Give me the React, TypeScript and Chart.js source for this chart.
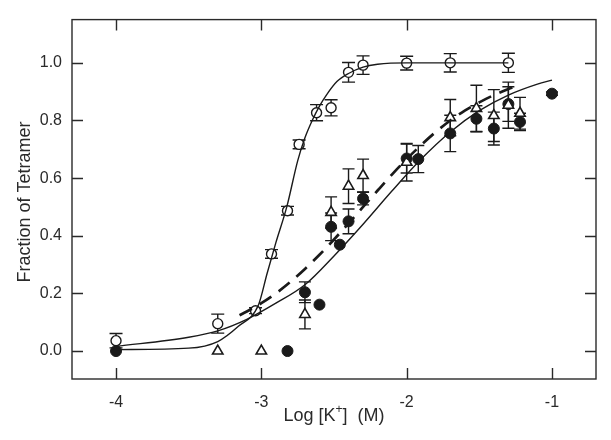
import React, { useEffect, useRef } from 'react';
import { Chart, registerables } from 'chart.js';

Chart.register(...registerables);

// ---------- data ----------
const xTicks = [-4, -3, -2, -1];
const yTicks = [0, 0.2, 0.4, 0.6, 0.8, 1.0];

// open circles
const openX = [-4.0, -3.3, -3.04, -2.93, -2.82, -2.74, -2.62, -2.52, -2.4, -2.3, -2.0, -1.7, -1.3];
const openY = [0.036, 0.095, 0.14, 0.337, 0.487, 0.717, 0.827, 0.844, 0.967, 0.992, 0.999, 1.0, 1.0];
const openErr = [0.025, 0.033, 0.01, 0.015, 0.015, 0.015, 0.028, 0.028, 0.034, 0.032, 0.024, 0.032, 0.033];

// open triangles
const triX = [-3.3, -3.0, -2.7, -2.52, -2.4, -2.3, -2.0, -1.7, -1.52, -1.4, -1.3, -1.22];
const triY = [0.0, 0.0, 0.127, 0.481, 0.572, 0.609, 0.655, 0.81, 0.842, 0.817, 0.853, 0.825];
const triErr = [0, 0, 0.05, 0.054, 0.06, 0.057, 0.065, 0.063, 0.08, 0.09, 0.08, 0.055];

// filled circles
const fillX = [-4.0, -2.82, -2.7, -2.6, -2.52, -2.46, -2.4, -2.3, -2.0, -1.92, -1.7, -1.52, -1.4, -1.3, -1.22, -1.0];
const fillY = [0.0, 0.0, 0.204, 0.161, 0.431, 0.369, 0.45, 0.529, 0.668, 0.666, 0.755, 0.806, 0.772, 0.857, 0.795, 0.893];
const fillErr = [0, 0, 0.036, 0, 0.048, 0, 0.043, 0.022, 0.05, 0.047, 0.063, 0.045, 0.057, 0.06, 0.03, 0.006];

// steep solid fit curve (open circles)
const fitOpenX = [-4.0, -3.5, -3.3, -3.16, -3.02, -2.96, -2.9, -2.825, -2.75, -2.7, -2.65, -2.6, -2.55, -2.48, -2.4, -2.3, -2.2, -2.0, -1.3];
const fitOpenY = [0.005, 0.01, 0.033, 0.085, 0.16, 0.27, 0.376, 0.5, 0.66, 0.74, 0.8, 0.85, 0.89, 0.935, 0.963, 0.985, 0.995, 1.0, 1.0];

// dashed fit curve (triangles)
const fitTriX = [-3.15, -3.1, -3.0, -2.9, -2.8, -2.7, -2.6, -2.5, -2.4, -2.3, -2.2, -2.1, -2.0, -1.9, -1.8, -1.7, -1.6, -1.5, -1.4, -1.3, -1.24];
const fitTriY = [0.124, 0.137, 0.166, 0.2, 0.24, 0.285, 0.334, 0.387, 0.443, 0.5, 0.557, 0.613, 0.666, 0.715, 0.76, 0.8, 0.834, 0.863, 0.888, 0.909, 0.92];

// shallow solid fit curve (filled circles)
const fitFillX = [-4.0, -3.5, -3.3, -3.1, -2.9, -2.7, -2.5, -2.3, -2.1, -1.9, -1.7, -1.5, -1.3, -1.1, -1.0];
const fitFillY = [0.016, 0.048, 0.07, 0.11, 0.166, 0.23, 0.33, 0.44, 0.556, 0.666, 0.76, 0.834, 0.888, 0.926, 0.94];

const xTitleMain = 'Log [K';
const xTitleSup = '+';
const xTitleEnd = ']  (M)';
const yTitle = 'Fraction of Tetramer';

// ---------- styling ----------
const FAMILY = '"Liberation Sans", Arial, Helvetica, sans-serif';
const INK = '#1a1a1a';
const TEXT = '#2a2a2a';

const pts = (xs: number[], ys: number[]) => xs.map((x, i) => ({ x, y: ys[i] }));

const errorBars = {
  id: 'errorBars',
  beforeDatasetsDraw(chart: any) {
    const { ctx, scales } = chart;
    const xs = scales.x;
    const ys = scales.y;
    ctx.save();
    ctx.strokeStyle = INK;
    ctx.lineWidth = 1.4;
    const draw = (X: number[], Y: number[], E: number[], cap: number) => {
      for (let i = 0; i < X.length; i++) {
        if (!E[i]) continue;
        const px = xs.getPixelForValue(X[i]);
        const top = ys.getPixelForValue(Y[i] + E[i]);
        const bot = ys.getPixelForValue(Y[i] - E[i]);
        ctx.beginPath();
        ctx.moveTo(px, top);
        ctx.lineTo(px, bot);
        ctx.moveTo(px - cap, top);
        ctx.lineTo(px + cap, top);
        ctx.moveTo(px - cap, bot);
        ctx.lineTo(px + cap, bot);
        ctx.stroke();
      }
    };
    draw(fillX, fillY, fillErr, 6);
    draw(triX, triY, triErr, 6);
    draw(openX, openY, openErr, 6.5);
    ctx.restore();
  },
};

const frame = {
  id: 'frame',
  afterDraw(chart: any) {
    const { ctx, chartArea: a, scales } = chart;
    ctx.save();
    ctx.strokeStyle = '#2a2a2a';
    ctx.lineWidth = 1.4;
    ctx.strokeRect(a.left, a.top, a.right - a.left, a.bottom - a.top);
    const L = 11;
    ctx.beginPath();
    for (const v of xTicks) {
      const px = Math.round(scales.x.getPixelForValue(v)) + 0.5;
      ctx.moveTo(px, a.bottom);
      ctx.lineTo(px, a.bottom - L);
      ctx.moveTo(px, a.top);
      ctx.lineTo(px, a.top + L);
    }
    for (const v of yTicks) {
      const py = Math.round(scales.y.getPixelForValue(v)) + 0.5;
      ctx.moveTo(a.left, py);
      ctx.lineTo(a.left + L, py);
      ctx.moveTo(a.right, py);
      ctx.lineTo(a.right - L, py);
    }
    ctx.stroke();

    // axis titles
    ctx.fillStyle = TEXT;
    ctx.textBaseline = 'alphabetic';
    ctx.textAlign = 'left';
    const big = `18px ${FAMILY}`;
    const small = `12px ${FAMILY}`;
    ctx.font = big;
    const wa = ctx.measureText(xTitleMain).width;
    const wb = ctx.measureText(xTitleEnd).width;
    ctx.font = small;
    const ws = ctx.measureText(xTitleSup).width;
    const cx = (a.left + a.right) / 2;
    const start = cx - (wa + ws + wb) / 2;
    const base = 421;
    ctx.font = big;
    ctx.fillText(xTitleMain, start, base);
    ctx.font = small;
    ctx.fillText(xTitleSup, start + wa, base - 8);
    ctx.font = big;
    ctx.fillText(xTitleEnd, start + wa + ws, base);

    ctx.translate(30, 202);
    ctx.rotate(-Math.PI / 2);
    ctx.textAlign = 'center';
    ctx.font = big;
    ctx.fillText(yTitle, 0, 0);
    ctx.restore();
  },
};

export default function App() {
  const ref = useRef<HTMLCanvasElement>(null);
  useEffect(() => {
    if (!ref.current) return;
    const curve = (xs: number[], ys: number[], dash: number[], width: number) => ({
      data: pts(xs, ys),
      showLine: true,
      borderColor: INK,
      borderWidth: width,
      borderDash: dash,
      pointRadius: 0,
      pointHoverRadius: 0,
      cubicInterpolationMode: 'monotone' as const,
      fill: false,
    });
    const chart = new Chart(ref.current, {
      type: 'scatter',
      data: {
        datasets: [
          curve(fitOpenX, fitOpenY, [], 1.4),
          curve(fitTriX, fitTriY, [14, 9], 2.7),
          curve(fitFillX, fitFillY, [], 1.4),
          {
            data: pts(openX, openY),
            pointStyle: 'circle',
            pointRadius: 5,
            pointBackgroundColor: '#ffffff',
            pointBorderColor: INK,
            pointBorderWidth: 1.4,
          },
          {
            data: pts(triX, triY),
            pointStyle: 'triangle',
            pointRadius: 6,
            pointBackgroundColor: '#ffffff',
            pointBorderColor: INK,
            pointBorderWidth: 1.6,
          },
          {
            data: pts(fillX, fillY),
            pointStyle: 'circle',
            pointRadius: 5.5,
            pointBackgroundColor: INK,
            pointBorderColor: INK,
            pointBorderWidth: 1,
          },
        ] as any,
      },
      options: {
        responsive: false,
        animation: false,
        devicePixelRatio: 1,
        layout: { padding: { left: 0, right: 15, top: 13, bottom: 0 } },
        plugins: { legend: { display: false }, tooltip: { enabled: false } },
        scales: {
          x: {
            type: 'linear',
            min: -4.303,
            max: -0.697,
            afterBuildTicks: (s: any) => {
              s.ticks = xTicks.map((v) => ({ value: v }));
            },
            afterFit: (s: any) => {
              s.height = 61;
            },
            grid: { display: false, drawTicks: false },
            border: { display: false },
            ticks: {
              padding: 14,
              color: TEXT,
              font: { size: 16, family: FAMILY },
              callback: (v: any) => String(v),
            },
          },
          y: {
            type: 'linear',
            min: -0.097,
            max: 1.15,
            afterBuildTicks: (s: any) => {
              s.ticks = yTicks.map((v) => ({ value: v }));
            },
            afterFit: (s: any) => {
              s.width = 72;
            },
            grid: { display: false, drawTicks: false },
            border: { display: false },
            ticks: {
              padding: 10,
              color: TEXT,
              font: { size: 16, family: FAMILY },
              callback: (v: any) => Number(v).toFixed(1),
            },
          },
        },
      } as any,
      plugins: [errorBars, frame],
    });
    return () => chart.destroy();
  }, []);
  return (
    <div style={{ position: 'fixed', left: 0, top: 0, width: 611, height: 440, background: '#fff' }}>
      <canvas ref={ref} width={611} height={440} style={{ display: 'block' }} />
    </div>
  );
}
